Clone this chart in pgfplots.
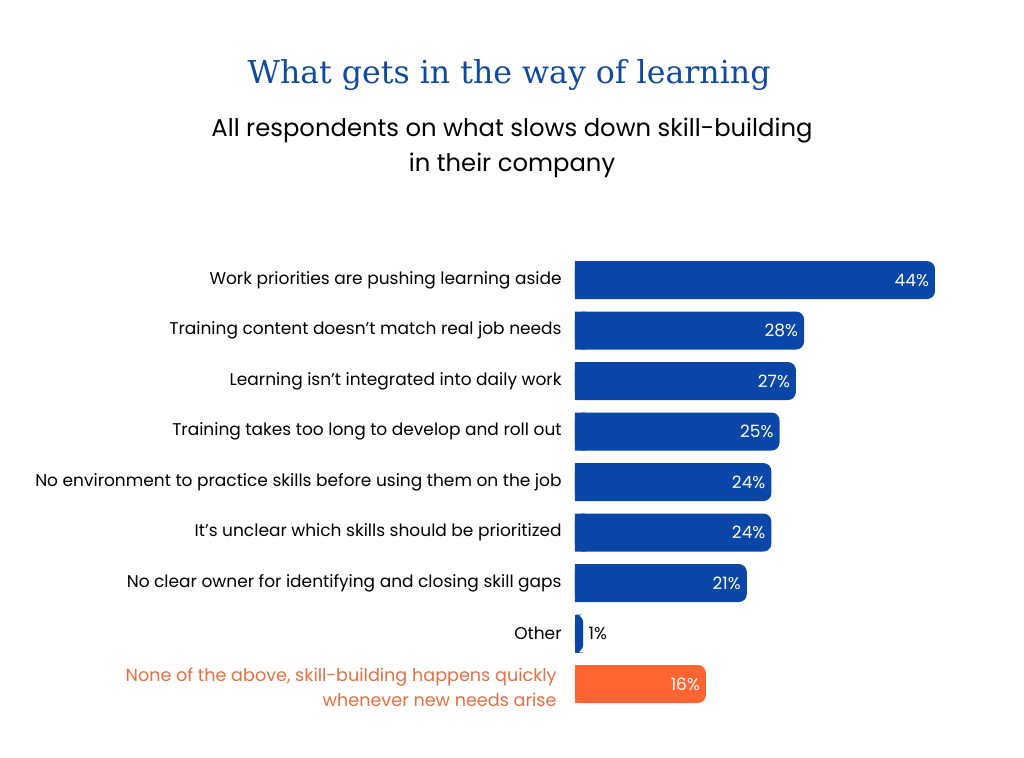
\documentclass[border=0pt]{standalone}
\usepackage{pgfplots}
\pgfplotsset{compat=1.18}
\usepackage{pgfplotstable}
\usepackage{fontspec}
\setmainfont{Poppins}
\newfontfamily\titlefont{DejaVu Serif}

\definecolor{barblue}{RGB}{10,70,168}
\definecolor{barorange}{RGB}{255,101,51}
\definecolor{txtorange}{RGB}{226,112,66}
\definecolor{titleblue}{RGB}{16,74,160}

% row position (0 = top) and share of respondents in %
\pgfplotstableread{
pos value
0 44
1 28
2 27
3 25
4 24
5 24
6 21
}\mainbars
\pgfplotstableread{
pos value
7 1
}\otherbar
\pgfplotstableread{
pos value
8 16
}\nonebar

\begin{document}
\begin{tikzpicture}
% page: 1024 x 757 px at 0.5pt per px
\path[use as bounding box, fill=white] (0,0) rectangle (512pt,378.5pt);

\node[anchor=base, text=titleblue, font=\titlefont\fontsize{15.8}{18}\selectfont]
  at (254.5pt,336.5pt) {What gets in the way of learning};
\node[anchor=base, font=\fontsize{12.15}{15}\selectfont]
  at (256pt,310pt) {All respondents on what slows down skill-building};
\node[anchor=base, font=\fontsize{12.15}{15}\selectfont]
  at (256pt,292.7pt) {in their company};

\begin{axis}[
  at={(287.5pt,251.1pt)}, anchor=north west,
  scale only axis,
  width=180pt, height=227.25pt,
  xmin=0, xmax=44,
  ymin=-0.5, ymax=8.5,
  y dir=reverse,
  axis x line=none,
  axis y line*=left,
  y axis line style={draw=none},
  major tick length=0pt,
  /pgf/number format/assume math mode=true,
  ytick={0,...,7},
  yticklabels={
    Work priorities are pushing learning aside,
    Training content doesn’t match real job needs,
    Learning isn’t integrated into daily work,
    Training takes too long to develop and roll out,
    No environment to practice skills before using them on the job,
    It’s unclear which skills should be prioritized,
    No clear owner for identifying and closing skill gaps,
    Other
  },
  yticklabel style={anchor=east, align=right, inner sep=0pt, xshift=-6.5pt,
    font=\fontsize{8.5}{12.5}\selectfont},
  extra y ticks={8},
  extra y tick labels={None of the above{,} skill-building happens quickly\\whenever new needs arise},
  extra y tick style={yticklabel style={text=txtorange, xshift=-2.5pt, yshift=-1.8pt,
    font=\fontsize{8.8}{12.5}\selectfont}},
  clip=false,
]
% blue bars with value inside
\addplot[xbar, bar shift=0pt, bar width=19pt, fill=barblue, draw=none,
  rounded corners=4pt, point meta=x,
  nodes near coords={\pgfmathprintnumber{\pgfplotspointmeta}\%},
  nodes near coords style={anchor=east, inner sep=0pt, xshift=-2.8pt,
    text=white, font=\fontsize{8.5}{10}\selectfont}]
  table[x=value, y=pos]{\mainbars};
% square off the left end
\addplot[xbar, bar shift=0pt, bar width=19pt, fill=barblue, draw=none]
  table[x expr={min(\thisrow{value}/2,1.2)}, y=pos]{\mainbars};

% Other: value outside
\addplot[xbar, bar shift=0pt, bar width=19pt, fill=barblue, draw=none,
  rounded corners=4pt, point meta=x,
  nodes near coords={\pgfmathprintnumber{\pgfplotspointmeta}\%},
  nodes near coords style={anchor=west, inner sep=0pt, xshift=2.5pt,
    text=black, font=\fontsize{8.5}{10}\selectfont}]
  table[x=value, y=pos]{\otherbar};
\addplot[xbar, bar shift=0pt, bar width=19pt, fill=barblue, draw=none]
  table[x expr={min(\thisrow{value}/2,1.2)}, y=pos]{\otherbar};

% None of the above
\addplot[xbar, bar shift=0pt, bar width=19pt, fill=barorange, draw=none,
  rounded corners=4pt, point meta=x,
  nodes near coords={\pgfmathprintnumber{\pgfplotspointmeta}\%},
  nodes near coords style={anchor=east, inner sep=0pt, xshift=-2.8pt,
    text=white, font=\fontsize{8.5}{10}\selectfont}]
  table[x=value, y=pos]{\nonebar};
\addplot[xbar, bar shift=0pt, bar width=19pt, fill=barorange, draw=none]
  table[x expr={min(\thisrow{value}/2,1.2)}, y=pos]{\nonebar};
\end{axis}
\end{tikzpicture}
\end{document}
